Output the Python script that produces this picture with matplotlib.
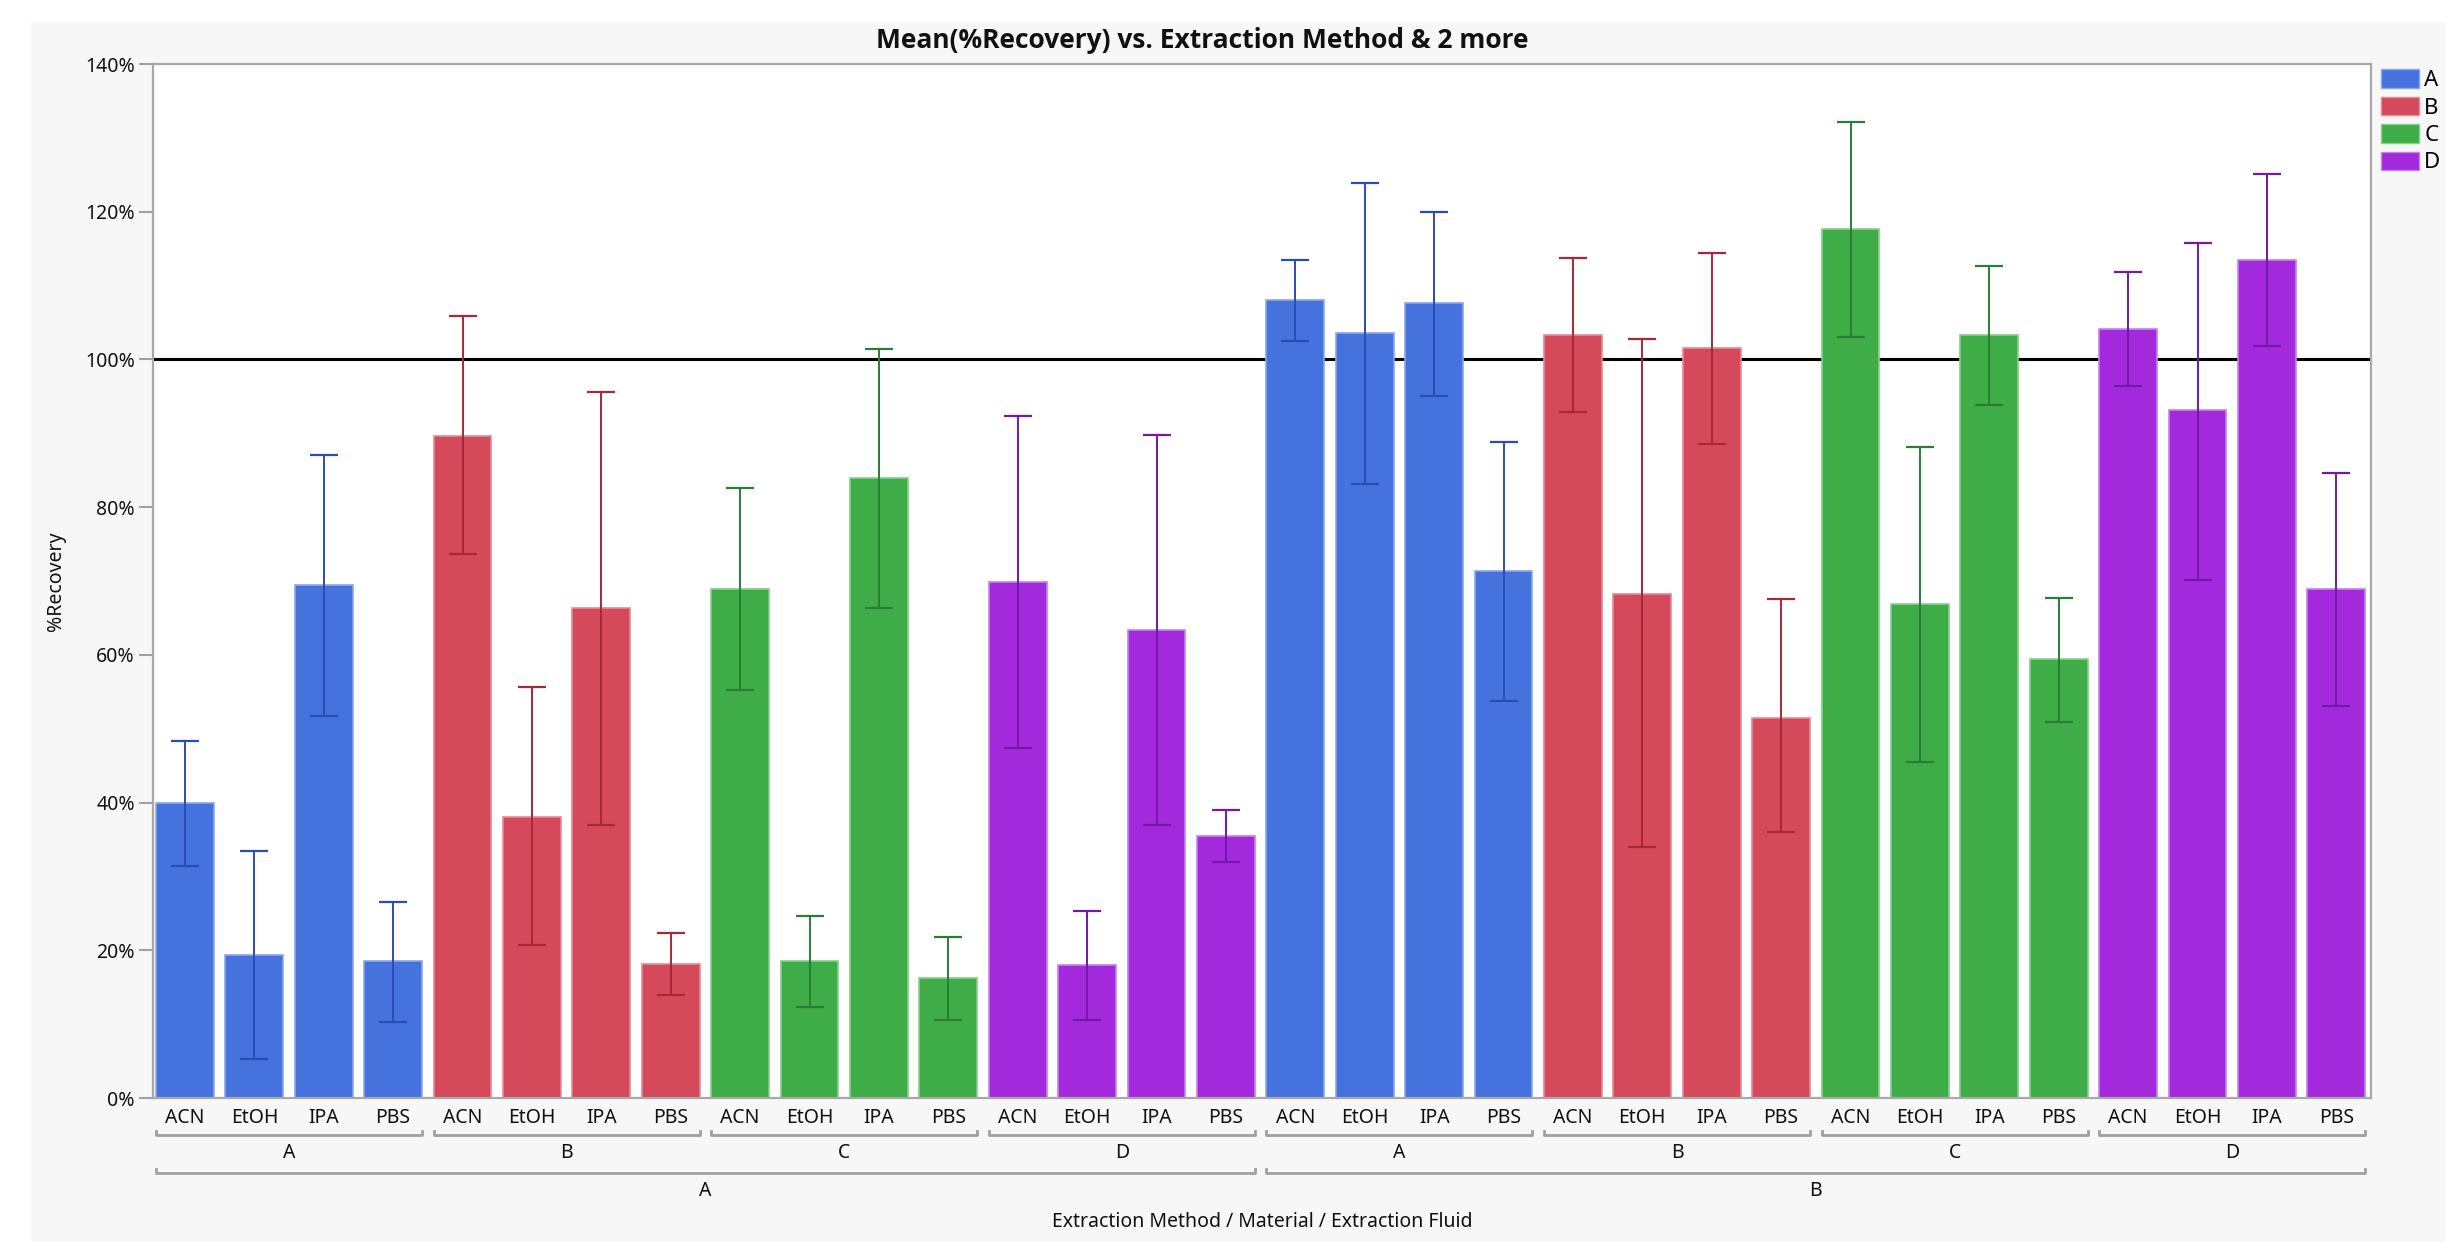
import numpy as np
import matplotlib.pyplot as plt
from matplotlib.patches import Patch, Rectangle
from matplotlib.lines import Line2D
from matplotlib.ticker import FuncFormatter
from matplotlib.transforms import blended_transform_factory

plt.rcParams['font.family'] = ['Noto Sans', 'DejaVu Sans']

# Nesting: Extraction Method / Material / Extraction Fluid
methods = ['A', 'B']
materials = ['A', 'B', 'C', 'D']
fluids = ['ACN', 'EtOH', 'IPA', 'PBS']

# Mean %Recovery with the lower / upper ends of the error bars (in %)
mean_recovery = [
    40.0, 19.4, 69.4, 18.5,    # A / A
    89.7, 38.1, 66.4, 18.1,    # A / B
    68.9, 18.5, 83.9, 16.2,    # A / C
    69.9, 18.0, 63.3, 35.5,    # A / D
    108.0, 103.6, 107.6, 71.3,  # B / A
    103.3, 68.3, 101.6, 51.5,  # B / B
    117.6, 66.9, 103.3, 59.4,  # B / C
    104.1, 93.1, 113.5, 68.9,  # B / D
]
lower_err = [
    31.4, 5.3, 51.7, 10.3,
    73.6, 20.7, 37.0, 13.9,
    55.3, 12.3, 66.3, 10.6,
    47.4, 10.6, 36.9, 32.0,
    102.5, 83.1, 95.0, 53.8,
    92.9, 34.0, 88.6, 36.0,
    103.0, 45.5, 93.8, 50.9,
    96.4, 70.1, 101.8, 53.1,
]
upper_err = [
    48.4, 33.5, 87.1, 26.6,
    105.9, 55.6, 95.6, 22.4,
    82.6, 24.6, 101.4, 21.8,
    92.4, 25.3, 89.8, 39.0,
    113.5, 123.9, 119.9, 88.8,
    113.7, 102.8, 114.4, 67.6,
    132.1, 88.1, 112.7, 67.7,
    111.8, 115.8, 125.1, 84.6,
]

bar_colors = {'A': '#4572dc', 'B': '#d44a5a', 'C': '#3fad47', 'D': '#a22adc'}
edge_colors = {'A': '#8aa6ec', 'B': '#e68a95', 'C': '#86cf8c', 'D': '#c681ec'}
err_colors = {'A': '#2a4db3', 'B': '#a82838', 'C': '#2b7c36', 'D': '#7418a6'}
text_color = '#111111'

W, H = 2446, 1242
fig = plt.figure(figsize=(W / 100, H / 100), dpi=100, facecolor='#f7f7f7')
# white margin on top and left of the report panel
fig.add_artist(Rectangle((0, 1 - 22 / H), 1, 22 / H, transform=fig.transFigure,
                         facecolor='white', edgecolor='none', zorder=-5))
fig.add_artist(Rectangle((0, 0), 31 / W, 1, transform=fig.transFigure,
                         facecolor='white', edgecolor='none', zorder=-5))

left, right, top, bottom = 153, 2371, 64, 1098
ax = fig.add_axes([left / W, 1 - bottom / H, (right - left) / W, (bottom - top) / H])
ax.set_facecolor('white')

n = len(mean_recovery)
x = np.arange(n)
width = 0.835
mat_of_bar = [materials[(i // 4) % 4] for i in range(n)]

ax.axhline(100, color='black', lw=2.2, zorder=1)

for i in range(n):
    m = mat_of_bar[i]
    ax.bar(x[i], mean_recovery[i], width=width, color=bar_colors[m],
           edgecolor=edge_colors[m], linewidth=1.2, zorder=2)
    ax.errorbar(x[i], mean_recovery[i],
                yerr=[[mean_recovery[i] - lower_err[i]], [upper_err[i] - mean_recovery[i]]],
                fmt='none', ecolor=err_colors[m], elinewidth=1.4, capsize=10,
                capthick=1.6, zorder=3)

ax.set_xlim(-0.46, 31.5)
ax.set_ylim(0, 140)
ax.set_yticks(np.arange(0, 141, 20))
ax.yaxis.set_major_formatter(FuncFormatter(lambda v, p: f'{v:.0f}%'))
ax.set_xticks(x)
ax.set_xticklabels(fluids * 8)
ax.tick_params(axis='x', length=0, pad=7, labelsize=14, colors=text_color)
ax.tick_params(axis='y', length=10, width=1.5, color='#a0a0a0', pad=3,
               labelsize=14, labelcolor=text_color)
for s in ax.spines.values():
    s.set_color('#a8a8a8')
    s.set_linewidth(1.6)

ax.set_ylabel('%Recovery', fontsize=14, color=text_color, labelpad=14)

# nested category brackets under the axis
t = blended_transform_factory(ax.transData, fig.transFigure)


def bracket(x0, x1, ypix, label, label_ypix):
    y = 1 - ypix / H
    up = 4 / H
    ax.add_line(Line2D([x0, x0, x1, x1], [y + up, y, y, y + up], transform=t,
                       color='#a0a0a0', lw=2, clip_on=False))
    ax.text((x0 + x1) / 2, 1 - label_ypix / H, label, transform=t, ha='center',
            va='center', fontsize=14, color=text_color, clip_on=False)


for g in range(8):
    bracket(4 * g - width / 2, 4 * g + 3 + width / 2, 1135, materials[g % 4], 1153)
for k, meth in enumerate(methods):
    bracket(16 * k - width / 2, 16 * k + 15 + width / 2, 1173, meth, 1191)

fig.text((left + right) / 2 / W, 1 - 1222 / H, 'Extraction Method / Material / Extraction Fluid',
         ha='center', va='center', fontsize=14, color=text_color)

fig.text(1202 / W, 1 - 40 / H, 'Mean(%Recovery) vs. Extraction Method & 2 more',
         ha='center', va='center', fontsize=19, fontweight='bold', color='#111111',
         family=['Open Sans', 'DejaVu Sans'])

handles = [Patch(facecolor=bar_colors[m], edgecolor=edge_colors[m], label=m) for m in materials]
ax.legend(handles=handles, loc='upper left', bbox_to_anchor=(1.0045, 0.995),
          frameon=False, fontsize=16, handlelength=1.7, handleheight=0.9,
          handletextpad=0.25, labelspacing=0.25, borderaxespad=0, borderpad=0)

fig.savefig('out.png', dpi=100, facecolor=fig.get_facecolor())
